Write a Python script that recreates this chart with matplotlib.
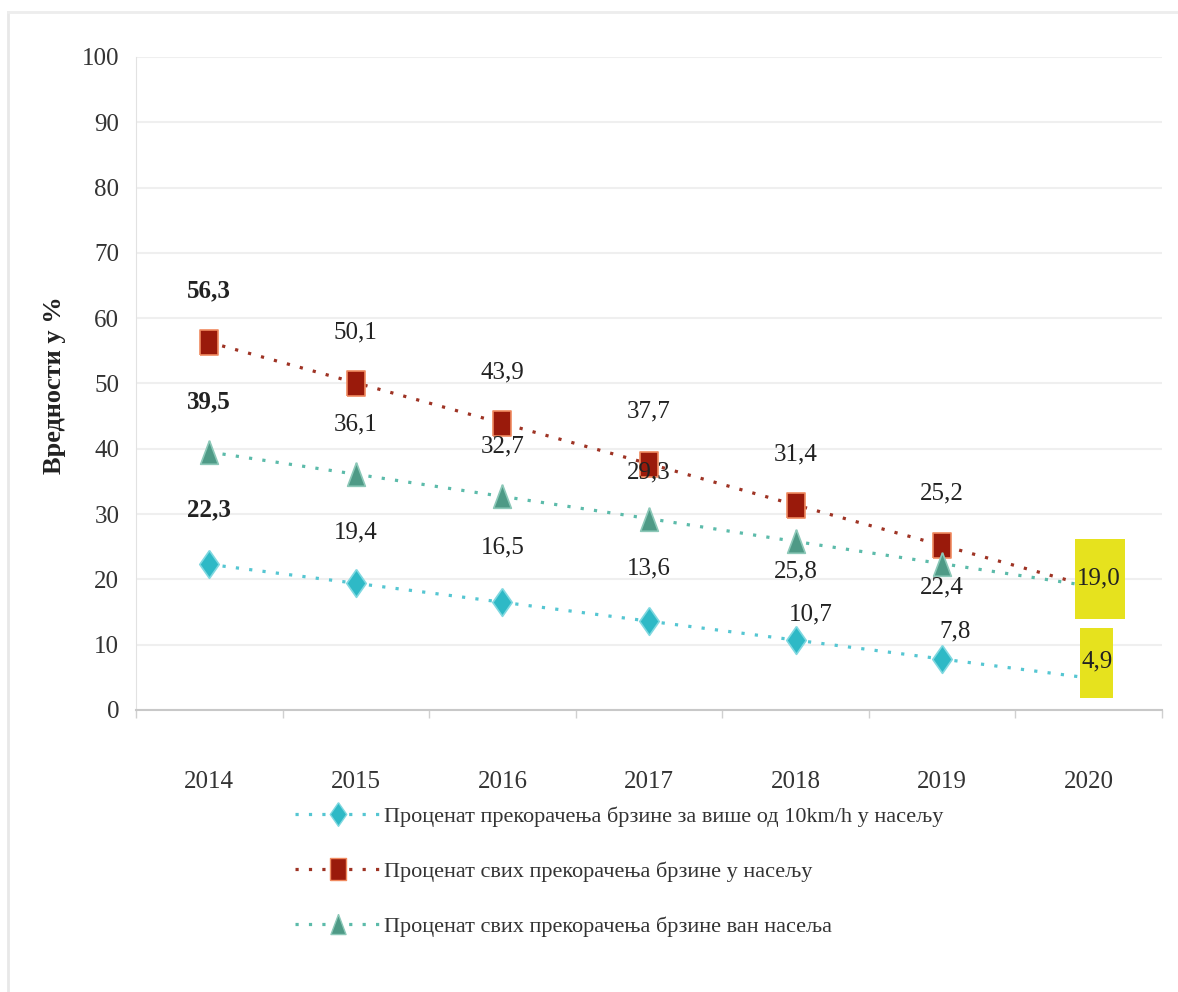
import numpy as np
import matplotlib
matplotlib.use("Agg")
import matplotlib.pyplot as plt
import matplotlib.transforms as mtransforms
from matplotlib.patches import Rectangle
from matplotlib.lines import Line2D

plt.rcParams["font.family"] = ["Liberation Serif", "DejaVu Serif"]

# ── data ──
years = ["2014", "2015", "2016", "2017", "2018", "2019", "2020"]
over10_in_town = [22.3, 19.4, 16.5, 13.6, 10.7, 7.8, 4.9]
all_in_town = [56.3, 50.1, 43.9, 37.7, 31.4, 25.2, 19.0]
all_out_town = [39.5, 36.1, 32.7, 29.3, 25.8, 22.4, 19.0]

labels = [
    "Проценат прекорачења брзине за више од 10km/h у насељу",
    "Проценат свих прекорачења брзине у насељу",
    "Проценат свих прекорачења брзине ван насеља",
]
y_ticks = [0, 10, 20, 30, 40, 50, 60, 70, 80, 90, 100]

# ── label offsets in pixels (dx, dy) for 2014..2019 ──
off_s1 = [(0, 55), (0, 51), (0, 55), (0, 53), (15, 26), (13, 28)]
off_s2 = [(0, 52), (0, 50), (0, 51), (0, 52), (0, 50), (0, 52)]
off_s3 = [(0, 50), (0, 50), (0, 50), (0, 46), (0, -30), (0, -24)]

# marker shapes (vertically stretched like the source)
diamond = [(0, 1), (0.7, 0), (0, -1), (-0.7, 0), (0, 1)]
square = [(-0.75, -1), (0.75, -1), (0.75, 1), (-0.75, 1), (-0.75, -1)]
triangle = [(0, 1), (0.75, -1), (-0.75, -1), (0, 1)]

series = [
    dict(y=over10_in_town, line="#55C6D2", face="#2EB9C6", edge="#7FD8E0",
         marker=diamond, ms=20, offs=off_s1),
    dict(y=all_in_town, line="#9E3324", face="#9A1A0B", edge="#F08A60",
         marker=square, ms=18, offs=off_s2),
    dict(y=all_out_town, line="#5CBBAA", face="#4E9A86", edge="#8CC8B8",
         marker=triangle, ms=17, offs=off_s3),
]

fig = plt.figure(figsize=(11.78, 9.92), dpi=100)
ax = fig.add_axes([0.1154, 0.2843, 0.871, 0.6583])

x = np.arange(len(years))
handles = []
for s, lab in zip(series, labels):
    ax.plot(x, s["y"], color=s["line"], lw=2.3, ls=(0, (1, 3.2)),
            dash_capstyle="butt", zorder=2)
    ax.plot(x[:-1], s["y"][:-1], ls="none", marker=s["marker"], ms=s["ms"],
            mfc=s["face"], mec=s["edge"], mew=1.2, zorder=3)
    handles.append(Line2D([], [], color=s["line"], lw=2.3, ls=(0, (1, 3.2)),
                          marker=s["marker"], ms=s["ms"] * 0.85,
                          mfc=s["face"], mec=s["edge"], mew=1.0))
    for i in range(len(years) - 1):
        dx, dy = s["offs"][i]
        ax.annotate(f"{s['y'][i]:.1f}".replace(".", ","), (x[i], s["y"][i]),
                    xytext=(dx, dy), textcoords="offset pixels",
                    ha="center", va="center", fontsize=18, color="#222222",
                    fontweight="bold" if i == 0 else "normal", zorder=4)

# 2020 highlighted values in yellow boxes
last = len(years) - 1
box_specs = [
    (all_in_town[last], (-0.14, -0.33, 0.50, 0.80), (10, 7)),
    (over10_in_town[last], (-0.09, -0.20, 0.33, 0.70), (8, 17)),
]
for val, (bx, by, bw, bh), (tx, ty) in box_specs:
    trans = fig.dpi_scale_trans + mtransforms.ScaledTranslation(x[last], val, ax.transData)
    ax.add_patch(Rectangle((bx, by), bw, bh, transform=trans,
                           facecolor="#E6E21E", edgecolor="none", zorder=5,
                           clip_on=False))
    ax.annotate(f"{val:.1f}".replace(".", ","), (x[last], val),
                xytext=(tx, ty), textcoords="offset pixels",
                ha="center", va="center", fontsize=18, color="#222222", zorder=6)

# axes styling
ax.set_xlim(-0.5, len(years) - 0.5)
ax.set_ylim(0, 100)
ax.set_yticks(y_ticks)
ax.set_xticks(x)
ax.set_xticklabels(years)
ax.set_xticks(np.arange(-0.5, len(years)), minor=True)
ax.tick_params(axis="x", which="major", length=0, pad=44, labelsize=18)
ax.tick_params(axis="x", which="minor", length=6, color="#D0D0D0", width=1)
ax.tick_params(axis="y", length=0, pad=12, labelsize=18, labelcolor="#333333")
ax.tick_params(axis="x", labelcolor="#333333")
ax.grid(axis="y", color="#EFEFEF", lw=1.5)
ax.set_axisbelow(True)
for side in ["top", "right"]:
    ax.spines[side].set_visible(False)
ax.spines["left"].set_color("#E2E2E2")
ax.spines["bottom"].set_color("#C8C8C8")
ax.spines["bottom"].set_linewidth(1.5)

fig.text(55 / 1178, 1 - 385 / 992, "Вредности у %", rotation=90,
         ha="center", va="center", fontsize=19, fontweight="bold", color="#222222")

fig.legend(handles, labels, loc="upper left",
           bbox_to_anchor=(284 / 1178, 1 - 795 / 992), frameon=False,
           fontsize=16, handlelength=3.9, handletextpad=0.1,
           labelspacing=1.55, borderpad=0, labelcolor="#333333")

# faint outer frame of the source image
fig.add_artist(Line2D([8 / 1178, 8 / 1178], [0, 1 - 12 / 992],
                      transform=fig.transFigure, color="#E8E8E8", lw=2))
fig.add_artist(Line2D([8 / 1178, 1], [1 - 12 / 992, 1 - 12 / 992],
                      transform=fig.transFigure, color="#EDEDED", lw=2))

fig.savefig("out.png", dpi=100)
